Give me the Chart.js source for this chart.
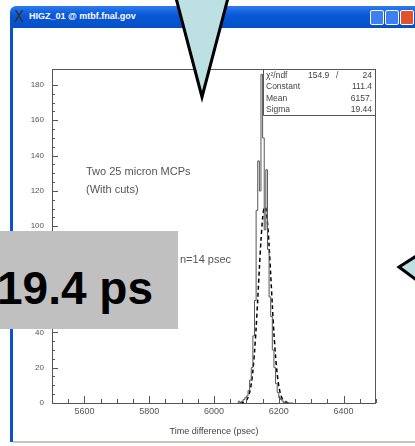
<!DOCTYPE html>
<html>
<head>
<meta charset="utf-8">
<script src="https://cdn.jsdelivr.net/npm/chart.js@4"></script>
<style>
  body { margin: 0; width: 415px; height: 446px; overflow: hidden; background: #fff; position: relative; font-family: 'Liberation Sans', Arial, sans-serif; }
  .titlebar { position: absolute; left: 10px; top: 6px; width: 410px; height: 22px; border-radius: 6px 6px 0 0;
    background: linear-gradient(#2c7cf0, #0a58d6 40%, #0550c8); }
  .titlebar .t { position: absolute; left: 19px; top: 5px; color: #fff; font-size: 9px; font-weight: bold; }
  .titlebar .x { position: absolute; left: 4px; top: 2px; color: #333; font-size: 15px; font-family: 'DejaVu Sans', sans-serif; }
  .btn { position: absolute; top: 4px; width: 12px; height: 13px; border: 1px solid #fff; border-radius: 2px; background: #3d7ef0; }
  .leftborder { position: absolute; left: 10px; top: 26px; width: 3px; height: 416px; background: #0a50d0; }
  .bottomline { position: absolute; left: 13px; top: 441px; width: 402px; height: 2px; background: #c9c7bd; }
  #chart { position: absolute; left: 0; top: 0; }
  .label { position: absolute; left: 0; top: 231px; width: 178px; height: 98px; background: #c0c0c0; }
  .label span { position: absolute; left: -3px; top: 30px; font-size: 46px; font-weight: bold; color: #000; font-family: 'Liberation Sans', Arial, sans-serif; }
  svg { position: absolute; left: 0; top: 0; }
</style>
</head>
<body>
<div class="titlebar">
  <span class="x">X</span><span class="t">HIGZ_01 @ mtbf.fnal.gov</span>
  <div class="btn" style="left:360px"></div>
  <div class="btn" style="left:375px"></div>
  <div class="btn" style="left:390px;background:#e2522a"></div>
</div>
<div class="leftborder"></div>
<div class="bottomline"></div>
<canvas id="chart" width="415" height="446"></canvas>
<div class="label"><span>19.4 ps</span></div>
<svg width="415" height="446">
  <polygon points="176,-2 228,-2 202,97" fill="#bde0e2" stroke="#000" stroke-width="3"/>
  <polygon points="399,267 418,255 418,281" fill="#bde0e2" stroke="#000" stroke-width="3"/>
</svg>
<script>
// histogram: lower bin edges (psec) and counts
const binLow = [6075, 6080, 6085, 6090, 6095, 6100, 6105, 6110, 6115, 6120, 6125, 6130, 6135, 6140, 6145,
  6150, 6155, 6160, 6165, 6170, 6175, 6180, 6185, 6190, 6195, 6200, 6205, 6210, 6215, 6220, 6225, 6230, 6235, 6240];
const counts = [0, 1, 0, 1, 2, 3, 4, 7, 13, 20, 38, 58, 109, 137, 120,
  186, 150, 98, 132, 87, 60, 49, 30, 20, 11, 6, 3, 2, 1, 0, 1, 0, 0, 0];

// gaussian fit curve
const fitX = [6080, 6085, 6090, 6095, 6100, 6105, 6110, 6115, 6120, 6125, 6130, 6135, 6140, 6145, 6150,
  6155, 6160, 6165, 6170, 6175, 6180, 6185, 6190, 6195, 6200, 6205, 6210, 6215, 6220, 6225, 6230];
const fitY = [0.0, 0.1, 0.3, 0.7, 1.5, 3.1, 6.0, 10.8, 18.2, 28.7, 42.4, 58.7, 76.0, 92.1, 104.4,
  110.8, 110.1, 102.4, 89.1, 72.6, 55.3, 39.5, 26.4, 16.5, 9.6, 5.3, 2.7, 1.3, 0.6, 0.2, 0.1];

const xLabels = [5600, 5800, 6000, 6200, 6400];
const yLabels = [0, 20, 40, 60, 80, 100, 120, 140, 160, 180];

const statNames = ['χ²/ndf', 'Constant', 'Mean', 'Sigma'];
const statValues = ['24', '111.4', '6157.', '19.44'];

const histData = binLow.map((x, i) => ({ x: x, y: counts[i] }));
histData.push({ x: binLow[binLow.length - 1] + 5, y: 0 });
const fitData = fitX.map((x, i) => ({ x: x, y: fitY[i] }));

const frame = {
  id: 'frame',
  afterDraw(chart) {
    const { ctx, chartArea: a, scales: { x, y } } = chart;
    ctx.save();
    ctx.strokeStyle = '#555';
    ctx.lineWidth = 1;
    ctx.strokeRect(a.left + 0.5, a.top + 0.5, a.right - a.left - 1, a.bottom - a.top);
    ctx.beginPath();
    x.ticks.forEach(t => {
      if (t.value % 50) return;
      const px = Math.round(x.getPixelForValue(t.value)) + 0.5;
      const len = xLabels.includes(t.value) ? 7 : 4;
      ctx.moveTo(px, a.bottom); ctx.lineTo(px, a.bottom - len);
    });
    y.ticks.forEach(t => {
      if (t.value % 5) return;
      const py = Math.round(y.getPixelForValue(t.value)) + 0.5;
      const len = yLabels.includes(t.value) ? 6 : 3;
      ctx.moveTo(a.left, py); ctx.lineTo(a.left + len, py);
    });
    ctx.stroke();

    // stats box
    ctx.beginPath();
    ctx.moveTo(263.5, a.top); ctx.lineTo(263.5, 115.5); ctx.lineTo(a.right, 115.5);
    ctx.stroke();
    ctx.fillStyle = '#444';
    ctx.font = '8.5px "Liberation Sans", Arial, sans-serif';
    ctx.textBaseline = 'middle';
    const rows = [76, 87, 99, 110];
    statNames.forEach((n, i) => {
      ctx.textAlign = 'left';
      ctx.fillText(n, 266, rows[i]);
      ctx.textAlign = 'right';
      ctx.fillText(statValues[i], 372, rows[i]);
    });
    ctx.textAlign = 'left';
    ctx.fillText('154.9', 308, rows[0]);
    ctx.fillText('/', 336, rows[0]);

    // annotations
    ctx.font = '11px "Liberation Sans", Arial, sans-serif';
    ctx.fillStyle = '#555';
    ctx.fillText('Two 25 micron MCPs', 86, 172);
    ctx.fillText('(With cuts)', 86, 190);
    ctx.fillText('n=14 psec', 180, 260);
    ctx.textAlign = 'right';
    ctx.fillText('Resolutio', 176, 260);
    ctx.restore();
  }
};

new Chart(document.getElementById('chart'), {
  type: 'line',
  data: {
    datasets: [
      {
        data: histData,
        stepped: 'after',
        borderColor: '#555',
        borderWidth: 1,
        pointRadius: 0,
        fill: false
      },
      {
        data: fitData,
        borderColor: '#000',
        borderWidth: 1.5,
        borderDash: [4, 3],
        pointRadius: 0,
        tension: 0.3,
        fill: false
      }
    ]
  },
  options: {
    responsive: false,
    animation: false,
    devicePixelRatio: 1,
    layout: { padding: { left: 0, top: 69, right: 39, bottom: 0 } },
    plugins: { legend: { display: false }, tooltip: { enabled: false } },
    scales: {
      x: {
        type: 'linear',
        min: 5500,
        max: 6500,
        grid: { display: false, drawTicks: false },
        border: { display: false },
        ticks: {
          stepSize: 50,
          autoSkip: false,
          maxRotation: 0,
          padding: 3,
          color: '#555',
          font: { family: 'Liberation Sans', size: 9 },
          callback: v => xLabels.includes(v) ? String(v) : ''
        },
        title: {
          display: true,
          text: 'Time difference (psec)',
          color: '#444',
          font: { family: 'Liberation Sans', size: 9 },
          padding: { top: 0, bottom: 8.6 }
        },
        afterFit: s => { s.height = 43; }
      },
      y: {
        min: 0,
        max: 189,
        grid: { display: false, drawTicks: false },
        border: { display: false },
        ticks: {
          stepSize: 5,
          autoSkip: false,
          padding: 8,
          color: '#555',
          font: { family: 'Liberation Sans', size: 8 },
          callback: v => yLabels.includes(v) ? String(v) : ''
        },
        afterFit: s => { s.width = 52; }
      }
    }
  },
  plugins: [frame]
});
</script>
</body>
</html>
